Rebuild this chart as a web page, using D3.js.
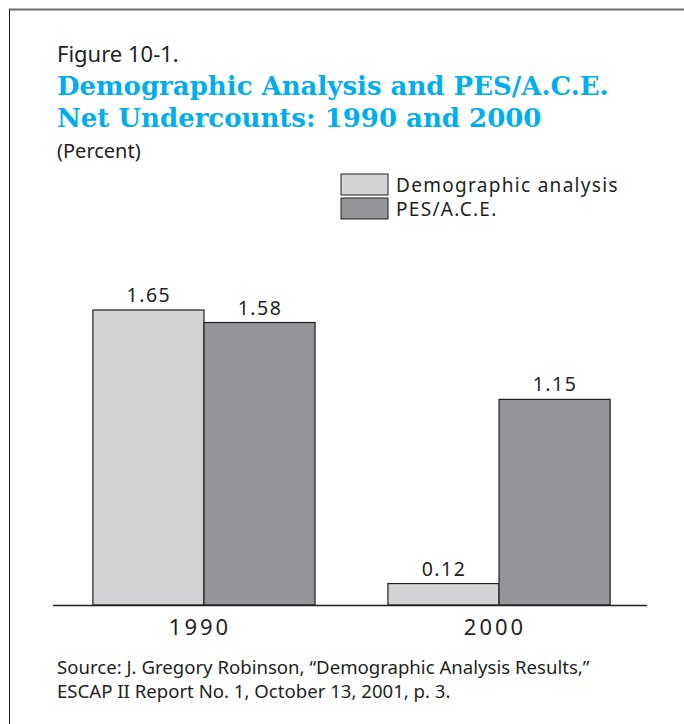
<!DOCTYPE html>
<html>
<head>
<meta charset="utf-8">
<script src="https://cdn.jsdelivr.net/npm/d3@7/dist/d3.min.js"></script>
<style>
  body { margin: 0; background: #fff; }
  svg { display: block; }
  .body-text { font-family: "Noto Sans", "Open Sans", sans-serif; fill: #231f20; }
  .title { font-family: "DejaVu Serif", serif; font-weight: bold; fill: #00aeef; }
</style>
</head>
<body>
<div id="main"></div>
<script>
var years = ["1990", "2000"];
var series = ["Demographic analysis", "PES/A.C.E."];
var demographic = [1.65, 0.12];
var pesAce = [1.58, 1.15];
var seriesColors = ["#d1d3d4", "#939598"];

var width = 684, height = 724;
var baseY = 605;

var svg = d3.select("#main")
    .append("svg")
    .attr("width", width)
    .attr("height", height);

// frame: top and left rules
svg.append("line")
    .attr("x1", 9).attr("x2", width).attr("y1", 9.5).attr("y2", 9.5)
    .style("stroke", "#6d6e71").style("stroke-width", 2);
svg.append("line")
    .attr("x1", 9.5).attr("x2", 9.5).attr("y1", 9).attr("y2", height)
    .style("stroke", "#231f20").style("stroke-width", 1);

// headings
svg.append("text")
    .attr("class", "body-text")
    .attr("x", 57).attr("y", 62)
    .style("font-size", "22px")
    .text("Figure 10-1.");
var titleLines = ["Demographic Analysis and PES/A.C.E.", "Net Undercounts: 1990 and 2000"];
svg.selectAll(".title")
    .data(titleLines)
    .enter()
    .append("text")
    .attr("class", "title")
    .attr("x", 57)
    .attr("y", function(d, i) { return 95 + i * 32; })
    .style("font-size", "26px")
    .text(function(d) { return d; });
svg.append("text")
    .attr("class", "body-text")
    .attr("x", 57).attr("y", 158)
    .style("font-size", "20px")
    .text("(Percent)");

// legend
var legend = svg.selectAll(".legend")
    .data(series)
    .enter()
    .append("g")
    .attr("class", "legend")
    .attr("transform", function(d, i) { return "translate(341," + (174 + i * 24) + ")"; });
legend.append("rect")
    .attr("width", 47).attr("height", 21)
    .style("fill", function(d, i) { return seriesColors[i]; })
    .style("stroke", "#231f20").style("stroke-width", 1);
legend.append("text")
    .attr("class", "body-text")
    .attr("x", 55).attr("y", 17.5)
    .style("font-size", "19px")
    .style("letter-spacing", "1.3px")
    .text(function(d) { return d; });

// scales
var x0 = d3.scaleBand()
    .domain(years)
    .range([56, 647])
    .paddingInner(0.247)
    .paddingOuter(0.125);
var x1 = d3.scaleBand()
    .domain(series)
    .range([0, x0.bandwidth()]);
var y = d3.scaleLinear()
    .domain([0, 1.65])
    .range([baseY, 310]);

var rows = years.map(function(yr, i) {
    return {year: yr, values: [
        {key: series[0], value: demographic[i], color: seriesColors[0]},
        {key: series[1], value: pesAce[i], color: seriesColors[1]}
    ]};
});

var groups = svg.selectAll(".group")
    .data(rows)
    .enter()
    .append("g")
    .attr("class", "group")
    .attr("transform", function(d) { return "translate(" + x0(d.year) + ",0)"; });

groups.selectAll("rect")
    .data(function(d) { return d.values; })
    .enter()
    .append("rect")
    .attr("x", function(d) { return x1(d.key); })
    .attr("y", function(d) { return y(d.value); })
    .attr("width", x1.bandwidth())
    .attr("height", function(d) { return baseY - y(d.value); })
    .style("fill", function(d) { return d.color; })
    .style("stroke", "#231f20")
    .style("stroke-width", 1.2);

groups.selectAll(".val")
    .data(function(d) { return d.values; })
    .enter()
    .append("text")
    .attr("class", "val body-text")
    .attr("x", function(d) { return x1(d.key) + x1.bandwidth() / 2; })
    .attr("y", function(d) { return y(d.value) - 8; })
    .attr("dx", 0.5)
    .attr("text-anchor", "middle")
    .style("font-size", "19.5px")
    .style("letter-spacing", "1.5px")
    .text(function(d) { return d3.format(".2f")(d.value); });

// x axis
var xAxis = svg.append("g")
    .attr("transform", "translate(0," + baseY + ")")
    .call(d3.axisBottom(x0).tickSize(0).tickPadding(14));
xAxis.select(".domain")
    .attr("d", "M53,0.5H647")
    .style("stroke", "#231f20")
    .style("stroke-width", 1.5);
xAxis.selectAll("text")
    .attr("class", "body-text")
    .attr("dx", -4)
    .style("font-size", "22px")
    .style("letter-spacing", "3px")
    .style("fill", "#231f20");

// source note
var sourceLines = ["Source: J. Gregory Robinson, \u201cDemographic Analysis Results,\u201d",
                   "ESCAP II Report No. 1, October 13, 2001, p. 3."];
svg.selectAll(".source")
    .data(sourceLines)
    .enter()
    .append("text")
    .attr("class", "source body-text")
    .attr("x", 57)
    .attr("y", function(d, i) { return 674 + i * 24; })
    .style("font-size", "18.6px")
    .text(function(d) { return d; });
</script>
</body>
</html>
